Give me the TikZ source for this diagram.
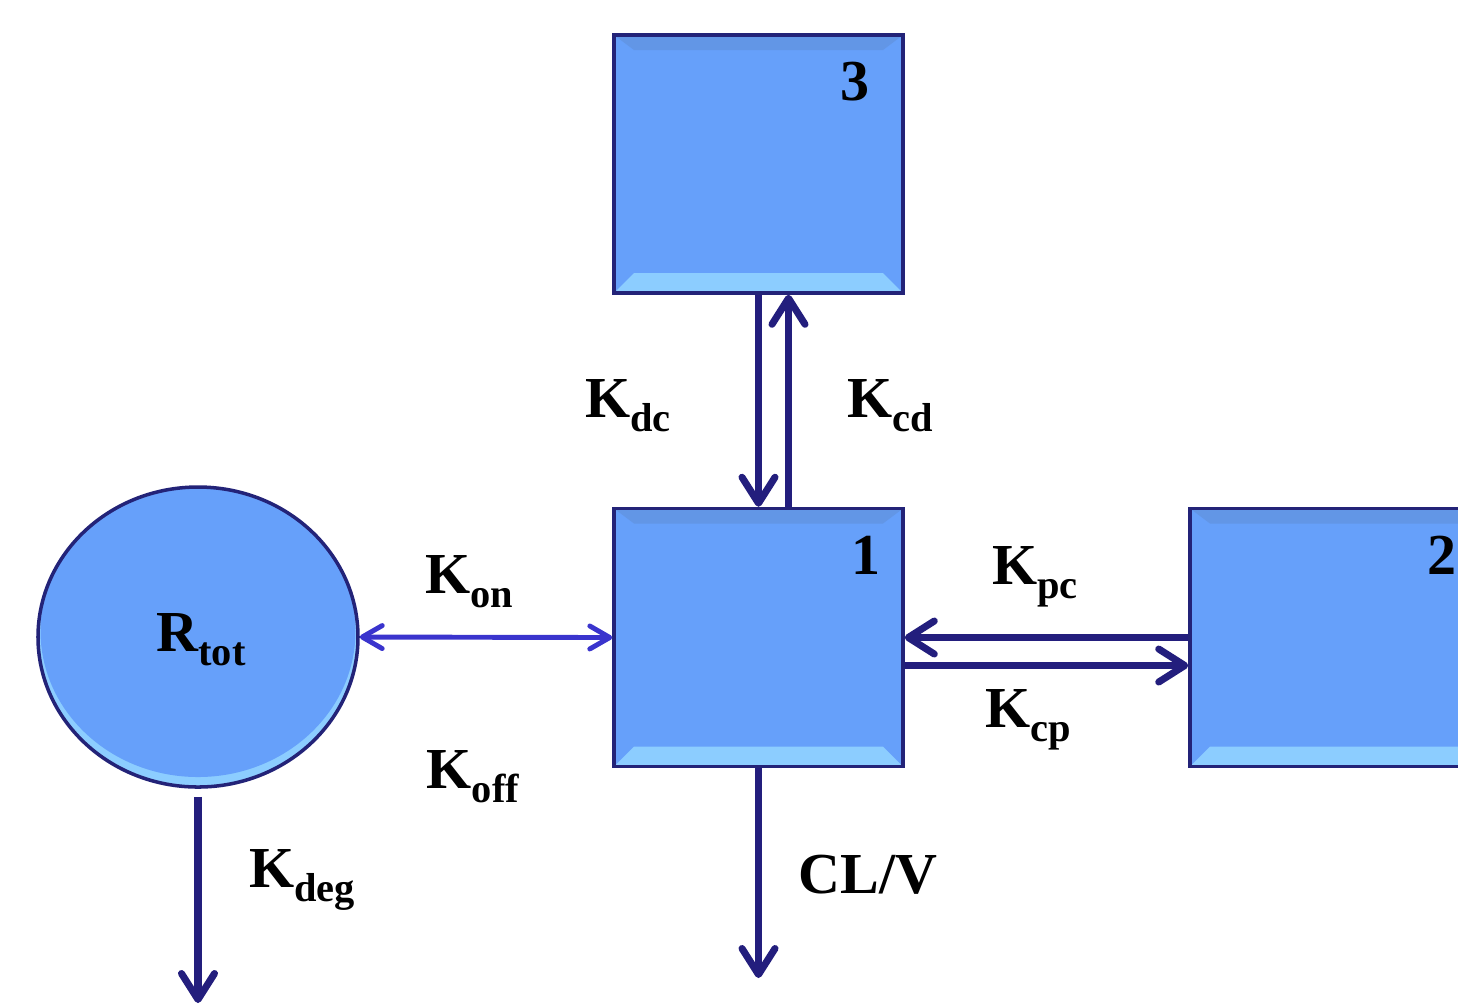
\documentclass[tikz,border=0pt]{standalone}
\usepackage{fontspec}
\setmainfont{Liberation Serif}
\usetikzlibrary{positioning, shapes.geometric, arrows.meta}

\definecolor{compfill}{RGB}{102,160,250}
\definecolor{compedge}{RGB}{35,35,120}
\definecolor{compbright}{RGB}{140,205,255}
\definecolor{compshade}{RGB}{98,150,230}
\definecolor{flowcol}{RGB}{35,30,125}
\definecolor{bindcol}{RGB}{58,52,205}

\newcommand{\ksub}[2]{#1\raisebox{-4pt}{\fontsize{11.5}{12}\selectfont #2}}

\tikzset{
    comp/.style={draw=compedge, line width=1pt, fill=compfill, inner sep=0pt,
        minimum width=2.89cm, minimum height=2.58cm,
        path picture={
            \fill[compbright] (path picture bounding box.south west) -- (path picture bounding box.south east)
                -- ([xshift=-2mm,yshift=2mm]path picture bounding box.south east)
                -- ([xshift=2mm,yshift=2mm]path picture bounding box.south west) -- cycle;
            \fill[compshade] (path picture bounding box.north west) -- (path picture bounding box.north east)
                -- ([xshift=-2mm,yshift=-1.5mm]path picture bounding box.north east)
                -- ([xshift=2mm,yshift=-1.5mm]path picture bounding box.north west) -- cycle;
        }},
    pool/.style={ellipse, draw=compedge, line width=1pt, fill=compbright, inner sep=0pt,
        minimum width=3.2cm, minimum height=3.0cm,
        path picture={
            \fill[compfill] ([yshift=0.6mm]path picture bounding box.center) ellipse [x radius=1.575cm, y radius=1.46cm];
        }},
    lbl/.style={inner sep=0pt, font=\fontsize{16.5}{18}\selectfont\bfseries},
    flow/.style={draw=flowcol, line width=2pt, -{Straight Barb[length=2.6mm, width=3.3mm, round]}},
    bind/.style={draw=bindcol, line width=1.4pt, {Straight Barb[length=2mm, width=2.3mm, round]}-{Straight Barb[length=2mm, width=2.3mm, round]}}
}

\begin{document}
\begin{tikzpicture}
    \clip (0,0) rectangle (14.58,-10.06);
    \node[comp] (box3) at (7.585,-1.64) {};
    \node[comp] (box1) at (7.585,-6.375) {};
    \node[comp] (box2) at (13.345,-6.375) {};
    \node[pool] (rtot) at (1.98,-6.37) {};
    \node[lbl] (n3) at (8.55,-0.82) {3};
    \node[lbl] (n1) at (8.66,-5.55) {1};
    \node[lbl] (n2) at (14.42,-5.55) {2};
    \node[lbl] (rtotlbl) at (2.01,-6.40) {\ksub{R}{tot}};
    \coordinate (clvend) at (7.585,-9.78);
    \coordinate (kdegend) at (1.98,-10.03);
    \draw[flow] (box3.south) -- (box1.north);
    \draw[flow] ([xshift=3mm]box1.north) -- ([xshift=3mm]box3.south);
    \draw[flow] (box2.west) -- (box1.east);
    \draw[flow] ([yshift=-2.8mm]box1.east) -- ([yshift=-2.8mm]box2.west);
    \draw[bind] (rtot.east) -- (box1.west);
    \draw[flow] (box1.south) -- (clvend);
    \draw[flow] ([yshift=-0.8mm]rtot.south) -- (kdegend);
    \node[lbl] (kdc) at (6.28,-4.06) {\ksub{K}{dc}};
    \node[lbl] (kcd) at (8.90,-4.06) {\ksub{K}{cd}};
    \node[lbl] (kon) at (4.69,-5.82) {\ksub{K}{on}};
    \node[lbl] (koff) at (4.73,-7.77) {\ksub{K}{off}};
    \node[lbl] (kpc) at (10.35,-5.77) {\ksub{K}{pc}};
    \node[lbl] (kcp) at (10.28,-7.20) {\ksub{K}{cp}};
    \node[lbl] (kdeg) at (3.02,-8.80) {\ksub{K}{deg}};
    \node[lbl] (clv) at (8.68,-8.75) {CL/V};
\end{tikzpicture}
\end{document}
